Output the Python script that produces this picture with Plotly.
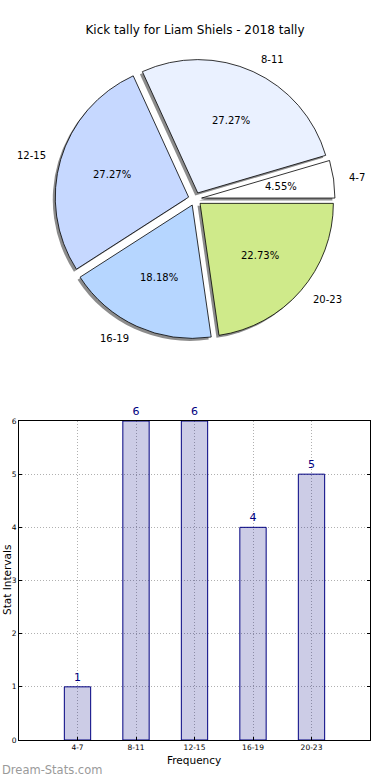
import math
import plotly.graph_objects as go

title_text = "Kick tally for Liam Shiels - 2018 tally"
categories = ["4-7", "8-11", "12-15", "16-19", "20-23"]
values = [1, 6, 6, 4, 5]
pie_colors = ["#FFFFFF", "#EAF1FF", "#C6D8FF", "#B6D6FF", "#CFEA8A"]
y_ticks = [0, 1, 2, 3, 4, 5, 6]

W, H = 390, 780
FONT = "DejaVu Sans"

def px_x(x):
    return x / W

def px_y(y):
    return 1 - y / H

total = sum(values)
# plotly places the first slice clockwise of `rotation` when going counterclockwise;
# matplotlib starts the first slice at 3 o'clock and goes counterclockwise
rot = 90 - 360.0 * values[0] / total

explode = 0.05
pull = [explode] * len(values)
cx, cy, R = 195, 199, 140
dom_x = [px_x(cx - R), px_x(cx + R)]
dom_y = [px_y(cy + R), px_y(cy - R)]
sh = 2.5
shadow_x = [px_x(cx - R - sh), px_x(cx + R - sh)]
shadow_y = [px_y(cy + R + sh), px_y(cy - R + sh)]
r_pie = R / (1 + explode)  # radius plotly uses for the unpulled pie

fig = go.Figure()

common = dict(values=values, labels=categories, sort=False,
              direction="counterclockwise", rotation=rot, pull=pull,
              showlegend=False, textinfo="none")

# shadow
fig.add_trace(go.Pie(
    domain=dict(x=shadow_x, y=shadow_y),
    marker=dict(colors=["rgba(0,0,0,0.45)"] * len(values), line=dict(width=0)),
    hoverinfo="skip", **common,
))
# main slices
fig.add_trace(go.Pie(
    domain=dict(x=dom_x, y=dom_y),
    marker=dict(colors=pie_colors, line=dict(color="#000000", width=0.8)),
    **common,
))

# pie labels placed like matplotlib: percent at 0.6r, label at 1.1r (plus explode offset)
annotations = []
start = 0.0
for cat, v in zip(categories, values):
    mid = math.radians((start + v / 2) / total * 360)
    start += v
    c, s = math.cos(mid), math.sin(mid)
    d_pct = (0.6 + explode) * r_pie
    annotations.append(dict(
        text=f"{v / total * 100:.2f}%", x=px_x(cx + d_pct * c), y=px_y(cy - d_pct * s),
        xref="paper", yref="paper", showarrow=False, xanchor="center", yanchor="middle",
        font=dict(family=FONT, size=10, color="#000000")))
    d_lab = (1.1 + explode) * r_pie
    annotations.append(dict(
        text=cat, x=px_x(cx + d_lab * c), y=px_y(cy - d_lab * s),
        xref="paper", yref="paper", showarrow=False,
        xanchor="left" if c > 0 else "right", yanchor="middle",
        font=dict(family=FONT, size=10, color="#000000")))

# bar chart
fig.add_trace(go.Bar(
    x=categories, y=values, width=0.45,
    marker=dict(color="rgba(0,0,128,0.2)", line=dict(color="#000080", width=1)),
    text=[str(v) for v in values], textposition="outside",
    textfont=dict(family=FONT, size=11, color="#000080"),
    cliponaxis=False, showlegend=False, xaxis="x", yaxis="y",
))

grid = dict(showgrid=True, gridcolor="#b0b0b0", griddash="1px,2px", gridwidth=1)

annotations += [
    dict(text="Frequency", x=px_x(194), y=px_y(760), xref="paper", yref="paper",
         xanchor="center", yanchor="middle",
         showarrow=False, font=dict(family=FONT, size=10.5, color="#000000")),
    dict(text="Stat Intervals", x=px_x(7), y=px_y(580), xref="paper", yref="paper",
         xanchor="center", yanchor="middle",
         showarrow=False, textangle=-90, font=dict(family=FONT, size=10.5, color="#000000")),
    dict(text="Dream-Stats.com", x=0, y=px_y(770), xref="paper", yref="paper",
         xanchor="left", yanchor="middle", showarrow=False,
         font=dict(family=FONT, size=11.5, color="#9a9a9a")),
]

fig.update_layout(
    width=W, height=H,
    margin=dict(l=0, r=0, t=0, b=0, autoexpand=False),
    paper_bgcolor="white", plot_bgcolor="white",
    font=dict(family=FONT, color="#000000"),
    title=dict(text=title_text, x=0.5, xanchor="center", y=px_y(30), yanchor="middle",
               font=dict(family=FONT, size=12, color="#000000")),
    xaxis=dict(
        domain=[px_x(19), px_x(370)], anchor="y", automargin=False,
        type="category", range=[-1, 5], **grid,
        showline=True, linecolor="#000000", linewidth=1, mirror=True,
        ticks="inside", ticklen=3, tickcolor="#000000",
        tickfont=dict(family=FONT, size=7.5, color="#000000"),
        zeroline=False, fixedrange=True,
    ),
    yaxis=dict(
        domain=[px_y(740), px_y(421)], anchor="x", automargin=False,
        range=[0, 6], tickvals=y_ticks, **grid,
        showline=True, linecolor="#000000", linewidth=1, mirror="ticks",
        ticks="inside", ticklen=3, tickcolor="#000000",
        tickfont=dict(family=FONT, size=7.5, color="#000000"),
        zeroline=False, fixedrange=True,
    ),
    annotations=annotations,
)

fig.write_html("out.html", config={"displayModeBar": False},
               post_script="document.body.style.margin='0';")
